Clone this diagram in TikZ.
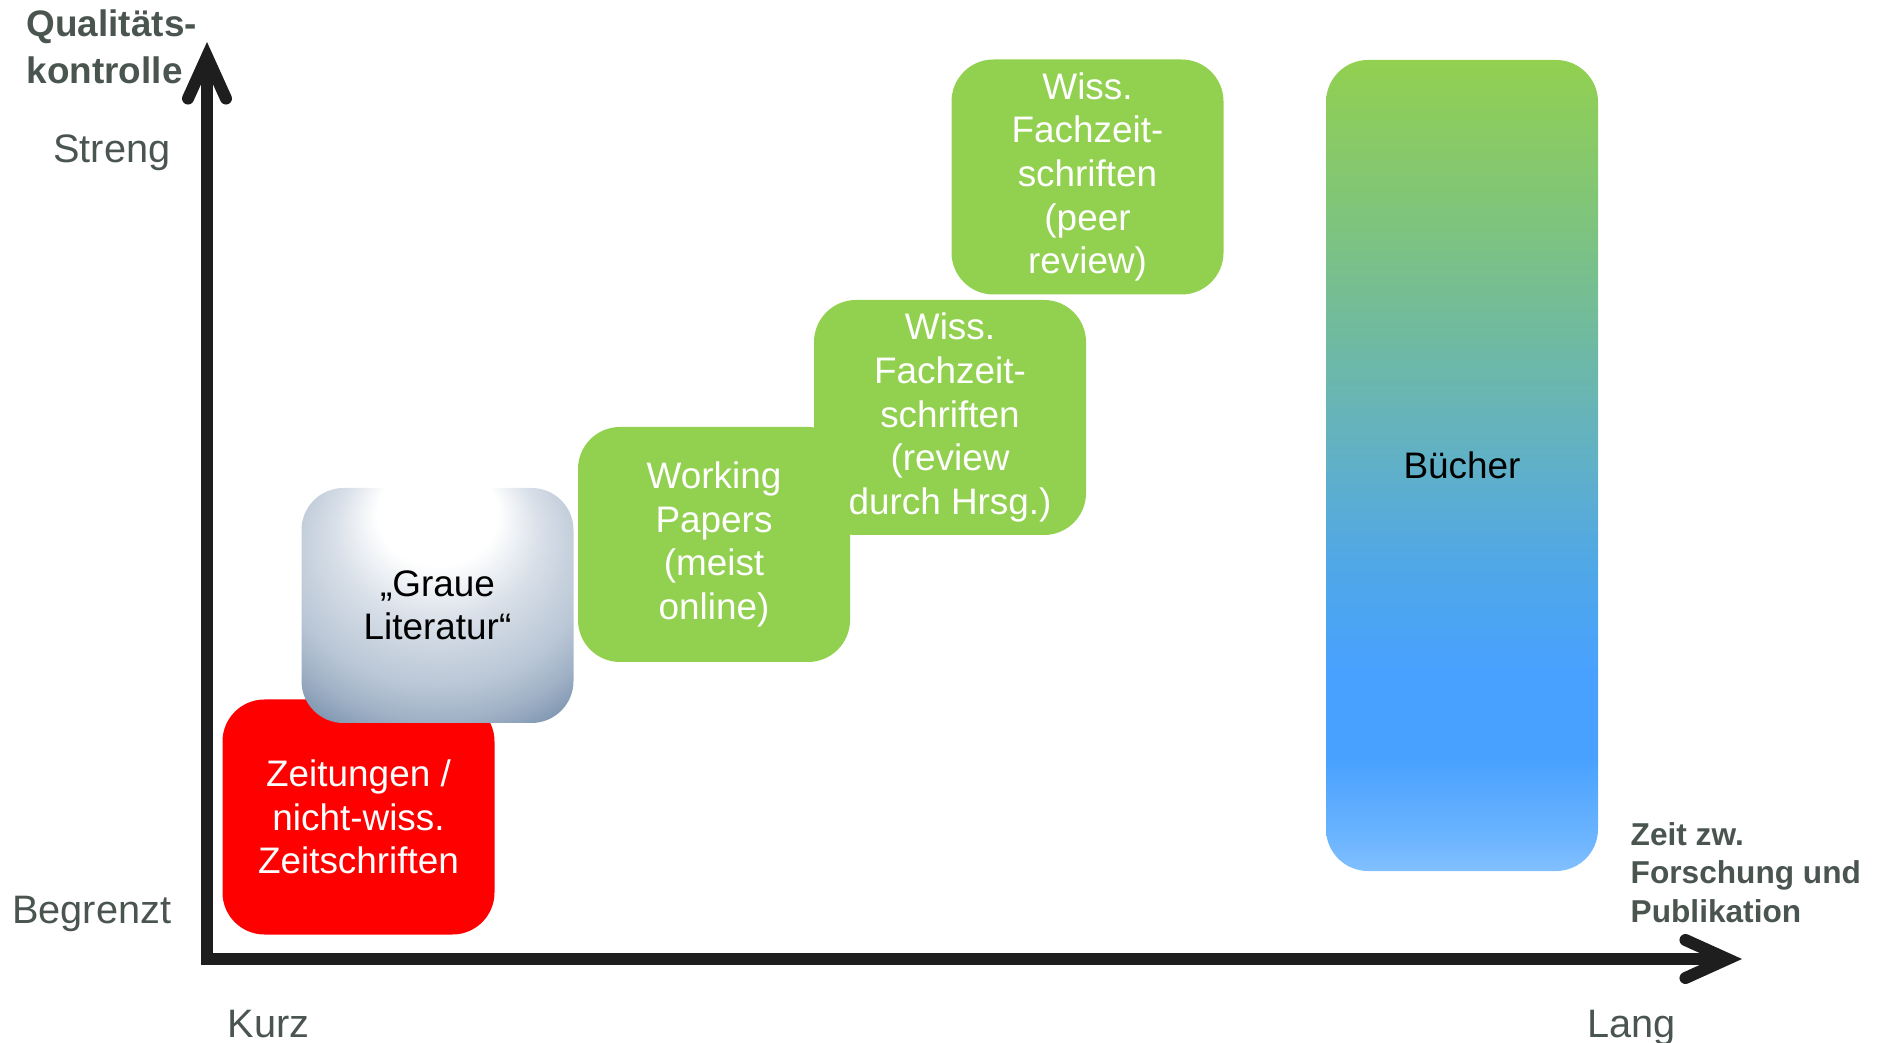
\documentclass[tikz,border=0pt]{standalone}
\usepackage{fontspec}
\setmainfont{Liberation Sans}
\usetikzlibrary{arrows.meta}
\definecolor{leafgreen}{RGB}{146,208,80}
\definecolor{labgray}{RGB}{74,85,80}
\definecolor{axisblack}{RGB}{30,30,30}
% Buecher gradient
\definecolor{bkLight}{RGB}{130,192,255}\definecolor{bkPale}{RGB}{108,180,255}
\definecolor{bkBlue}{RGB}{72,161,255}\definecolor{bkSky}{RGB}{80,168,230}
\definecolor{bkTeal}{RGB}{96,176,200}\definecolor{bkSea}{RGB}{112,186,160}
\definecolor{bkMint}{RGB}{126,196,125}
\pgfdeclareverticalshading{buecher}{100bp}{color(0bp)=(bkLight); color(25bp)=(bkLight); color(27bp)=(bkPale); color(32bp)=(bkBlue); color(37bp)=(bkBlue); color(44bp)=(bkSky); color(50bp)=(bkTeal); color(58bp)=(bkSea); color(65bp)=(bkMint); color(75bp)=(leafgreen); color(100bp)=(leafgreen)}
% graue Literatur
\definecolor{grLight}{RGB}{216,223,232}\definecolor{grMid}{RGB}{186,199,214}
\definecolor{grDeep}{RGB}{160,177,198}\definecolor{grSlate}{RGB}{108,134,164}
\pgfdeclareradialshading{graue}{\pgfpoint{0bp}{25bp}}{color(0bp)=(white); color(11bp)=(white); color(19bp)=(grLight); color(28bp)=(grMid); color(33bp)=(grDeep); color(40bp)=(grSlate); color(50bp)=(grSlate)}

\begin{document}
\begin{tikzpicture}[x=1cm,y=1cm,
pubbox/.style={rounded corners=4.2mm,minimum width=2.72cm,minimum height=2.35cm,inner sep=0pt,align=center,font=\fontsize{10.5}{12.4}\selectfont},
greenbox/.style={pubbox,fill=leafgreen,text=white},
axislab/.style={text=labgray,inner sep=0pt,font=\fontsize{11.3}{13.5}\selectfont},
axistitle/.style={text=labgray,inner sep=0pt,align=left,font=\bfseries\fontsize{10.5}{13.4}\selectfont},
axisline/.style={draw=axisblack,line width=1.2mm,line join=miter,>={Straight Barb[length=4.2mm,width=3.8mm,line cap=round]},<->}]
\useasboundingbox (0,0) rectangle (18.77,10.42);
% axes
\coordinate (ytop) at (2.07,10.0);
\coordinate (origin) at (2.07,0.83);
\coordinate (xend) at (17.42,0.83);
\draw[axisline] (ytop) -- (origin) -- (xend);
\node[axistitle,anchor=north west] (qtitle) at (0.26,10.33) {Qualitäts-\\kontrolle};
\node[axistitle,anchor=north west,font=\bfseries\fontsize{9}{10.9}\selectfont] (ztitle) at (16.30,2.20) {Zeit zw.\\Forschung und\\Publikation};
\node[axislab,anchor=base east] (streng) at (1.71,8.79) {Streng};
\node[axislab,anchor=base east] (begrenzt) at (1.72,1.19) {Begrenzt};
\node[axislab,anchor=base west] (kurz) at (2.27,0.05) {Kurz};
\node[axislab,anchor=base west] (lang) at (15.87,0.05) {Lang};
% publication types
\node[pubbox,fill=red,text=white] (zeitungen) at (3.585,2.25) {Zeitungen /\\nicht-wiss.\\Zeitschriften};
\node[pubbox,shading=graue,text=black] (graue) at (4.375,4.365) {„Graue\\Literatur“};
\node[greenbox] (hrsg) at (9.50,6.245) {Wiss.\\Fachzeit-\\schriften\\(review\\durch Hrsg.)};
\node[greenbox] (working) at (7.14,4.975) {Working\\Papers\\(meist\\online)};
\node[greenbox] (peer) at (10.875,8.65) {Wiss.\\Fachzeit-\\schriften\\(peer\\review)};
\node[pubbox,minimum height=8.11cm,shading=buecher,shading angle=0,text=black] (buecher) at (14.62,5.765) {Bücher};
\end{tikzpicture}
\end{document}
